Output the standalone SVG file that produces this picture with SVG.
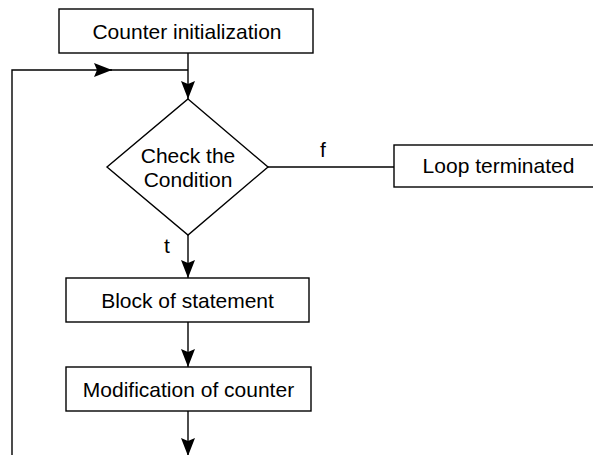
<svg xmlns="http://www.w3.org/2000/svg" width="593" height="455" viewBox="0 0 593 455">
  <defs>
    <style>
      .box { fill: #ffffff; stroke: #000000; stroke-width: 1.4; }
      .conn { fill: none; stroke: #000000; stroke-width: 1.4; }
      .lbl { font-family: "Liberation Sans", Arial, sans-serif; font-size: 21px; fill: #000000; text-anchor: middle; }
    </style>
    <marker id="arrow" markerUnits="userSpaceOnUse" viewBox="0 0 18 14" refX="18" refY="7" markerWidth="18" markerHeight="14" orient="auto">
      <path d="M0,0 L18,7 L0,14 L3,7 Z" fill="#000000"/>
    </marker>
  </defs>
  <rect width="593" height="455" fill="#ffffff"/>

  <g id="connectors">
    <path class="conn" d="M188,53 V99" marker-end="url(#arrow)"/>
    <path class="conn" d="M12,456 V70 H112" marker-end="url(#arrow)"/>
    <path class="conn" d="M110,70 H188"/>
    <path class="conn" d="M268,167 H394"/>
    <path class="conn" d="M188,235 V278" marker-end="url(#arrow)"/>
    <path class="conn" d="M188,322 V367" marker-end="url(#arrow)"/>
    <path class="conn" d="M188,411 V456" marker-end="url(#arrow)"/>
    <text class="lbl" x="323" y="157">f</text>
    <text class="lbl" x="167" y="253">t</text>
  </g>

  <g id="init">
    <rect class="box" x="59" y="9" width="254" height="44"/>
    <text class="lbl" x="187" y="39">Counter initialization</text>
  </g>

  <g id="condition">
    <polygon class="box" points="188,99 268,167 188,235 107,167"/>
    <text class="lbl" x="188" y="163">Check the</text>
    <text class="lbl" x="188" y="187">Condition</text>
  </g>

  <g id="terminated">
    <rect class="box" x="394" y="145" width="215" height="42"/>
    <text class="lbl" x="498.5" y="172.5">Loop terminated</text>
  </g>

  <g id="block">
    <rect class="box" x="66" y="278" width="243" height="44"/>
    <text class="lbl" x="187.5" y="307.5">Block of statement</text>
  </g>

  <g id="modification">
    <rect class="box" x="66" y="367" width="245" height="44"/>
    <text class="lbl" x="188.5" y="396.5">Modification of counter</text>
  </g>
</svg>
